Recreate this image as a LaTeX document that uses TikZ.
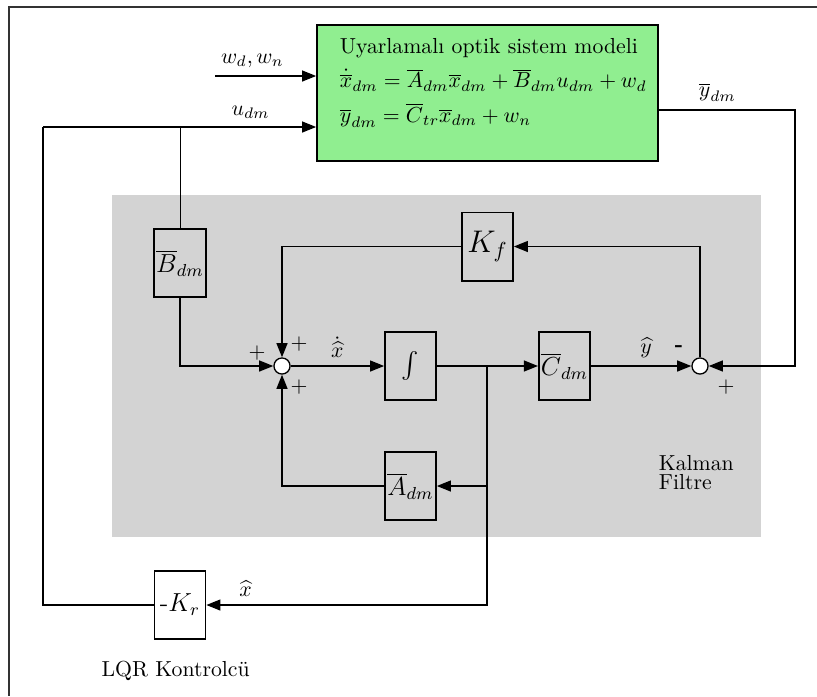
\documentclass[tikz,border=0pt]{standalone}
\usepackage{amsmath}
\usetikzlibrary{arrows.meta,positioning}
\definecolor{plantgreen}{HTML}{90EE90}
\definecolor{filtergray}{HTML}{D3D3D3}
\definecolor{framegray}{HTML}{333333}

\begin{document}
\begin{tikzpicture}[
  x=0.46pt, y=-0.46pt,
  >={Triangle[length=6.5pt,width=5pt]},
  line width=0.8pt,
  gain/.style={rectangle, draw, line width=0.7pt, minimum width=23.5pt, minimum height=31.5pt, inner sep=1pt, font=\large},
  plantbox/.style={rectangle, draw, line width=0.7pt, fill=plantgreen, minimum width=156.9pt, minimum height=62.6pt},
  sumnode/.style={circle, draw, line width=0.6pt, fill=white, minimum size=7.4pt, inner sep=0pt},
  flow/.style={->, line width=0.8pt},
  tap/.style={line width=0.4pt},
  sign/.style={inner sep=0pt}
]
  \useasboundingbox (0,0) rectangle (817,696);
  \draw[framegray, line width=0.5pt] (817,7) -- (9,7) -- (9,696);
  \fill[filtergray] (112,195) rectangle (761,537);

  % optik sistem
  \node[plantbox] (plant) at (487.5,93) {};
  \node[anchor=west, align=left, inner sep=0pt] (plantlbl) at (339,83) {Uyarlamalı optik sistem modeli\\[4pt]
    $\dot{\overline{x}}_{dm}=\overline{A}_{dm}\overline{x}_{dm}+\overline{B}_{dm}u_{dm}+w_d$\\[4pt]
    $\overline{y}_{dm}=\overline{C}_{tr}\overline{x}_{dm}+w_n$};

  % Kalman filtre bloklari
  \node[gain] (Bdm) at (180,263) {$\overline{B}_{dm}$};
  \node[gain, font=\Large] (Kf) at (487.5,246.5) {$K_f$};
  \node[gain] (integ) at (410.5,366) {$\int$};
  \node[gain] (Cdm) at (564.5,366) {$\overline{C}_{dm}$};
  \node[gain] (Adm) at (410.5,486) {$\overline{A}_{dm}$};
  \node[sumnode] (sum1) at (282,366) {};
  \node[sumnode] (sum2) at (700,366) {};

  % LQR
  \node[gain] (Kr) at (180,605) {-$K_r$};

  \coordinate (win) at (215,76);
  \coordinate (uleft) at (43,127);
  \coordinate (utap) at (180,127);
  \coordinate (ycorner) at (795,110);
  \coordinate (split) at (487,366);

  \draw[flow] (win) -- node[above, pos=0.37] {$w_d, w_n$} (win -| plant.west);
  \draw[flow] (uleft) -- node[above, pos=0.76] {$u_{dm}$} (uleft -| plant.west);
  \draw[tap] (utap) -- (Bdm.north);
  \draw[flow] (Bdm.south) |- (sum1.west);
  \draw[flow] (ycorner -| plant.east) -- node[above, pos=0.43] {$\overline{y}_{dm}$} (ycorner) |- (sum2.east);
  \draw[flow] (sum1) -- node[above] {$\dot{\widehat{x}}$} (integ);
  \draw[flow] (integ) -- (Cdm);
  \draw[flow] (Cdm) -- node[above, pos=0.55] {$\widehat{y}$} (sum2);
  \draw[flow] (sum2) |- (Kf.east);
  \draw[flow] (Kf.west) -| (sum1);
  \draw[flow] (split) |- (Adm.east);
  \draw[flow] (Adm.west) -| (sum1);
  \draw[flow] (split) |- node[above, pos=0.93] {$\widehat{x}$} (Kr.east);
  \draw (Kr.west) -| (uleft);

  % isaretler
  \node[sign] (p1) at (257,353) {+};
  \node[sign] (p2) at (299,344) {+};
  \node[sign] (p3) at (299,387) {+};
  \node[sign] (m1) at (679,349) {\textbf{-}};
  \node[sign] (p4) at (726,387) {+};

  \node[anchor=north west, align=left, inner sep=0pt] (kalmanlbl) at (658,455) {Kalman\\[-3.7pt]Filtre};
  \node[below=6pt of Kr, xshift=-2pt] (lqrlbl) {LQR Kontrolcü};
\end{tikzpicture}
\end{document}
